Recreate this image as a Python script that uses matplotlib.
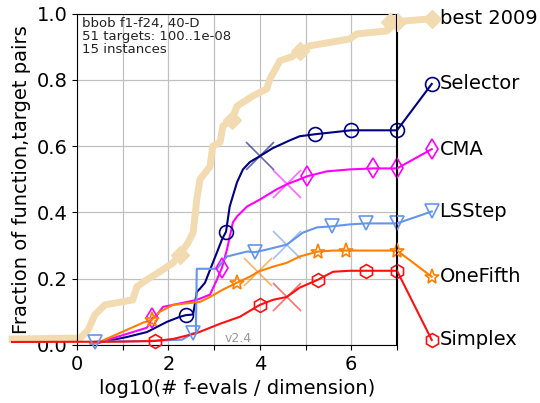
import numpy as np
import matplotlib
matplotlib.use("Agg")
import matplotlib.pyplot as plt

# series: curve points, marker points, median-X point, label end
best_x = [-1.42, 0.07, 0.24, 0.39, 0.61, 1.22, 1.31, 1.53, 1.81, 2.10, 2.25, 2.43, 2.54, 2.58, 2.62,
          2.69, 2.91, 2.97, 3.13, 3.19, 3.39, 3.50, 3.85, 4.15, 4.22, 4.44, 4.70, 4.87, 5.09, 5.60,
          5.97, 6.12, 6.78, 6.84, 7.0]
best_y = [0.018, 0.021, 0.045, 0.091, 0.121, 0.136, 0.176, 0.197, 0.221, 0.248, 0.273, 0.309, 0.339, 0.388, 0.439,
          0.50, 0.539, 0.60, 0.612, 0.661, 0.679, 0.721, 0.752, 0.773, 0.803, 0.858, 0.870, 0.888, 0.903, 0.915,
          0.924, 0.939, 0.948, 0.976, 0.976]
best_mx = [2.25, 3.39, 4.87, 6.84]
best_my = [0.273, 0.679, 0.888, 0.976]

sel_x = [0.3, 0.44, 1.09, 1.53, 1.97, 2.25, 2.38, 2.54, 2.62, 2.69, 2.80, 2.91, 3.06, 3.17, 3.26, 3.34, 3.50,
         3.63, 3.78, 4.0, 4.28, 4.66, 4.87, 5.20, 5.60, 5.99, 7.0]
sel_y = [0.005, 0.006, 0.024, 0.039, 0.07, 0.085, 0.09, 0.092, 0.16, 0.17, 0.188, 0.227, 0.279, 0.318, 0.342, 0.418, 0.491,
         0.530, 0.552, 0.570, 0.594, 0.618, 0.630, 0.636, 0.642, 0.648, 0.648]
sel_mx = [2.38, 3.26, 5.20, 5.99]
sel_my = [0.09, 0.342, 0.636, 0.648]

cma_x = [0.3, 0.44, 1.53, 1.64, 1.75, 1.88, 2.10, 2.62, 2.91, 3.06, 3.17, 3.28, 3.41, 3.50, 3.72, 4.0,
         4.37, 4.59, 4.87, 5.03, 5.46, 5.97, 6.47, 7.0]
cma_y = [0.005, 0.006, 0.052, 0.08, 0.091, 0.115, 0.121, 0.136, 0.152, 0.197, 0.233, 0.288, 0.370, 0.388, 0.418, 0.439,
         0.470, 0.485, 0.50, 0.509, 0.524, 0.530, 0.533, 0.533]
cma_mx = [1.64, 3.17, 5.03, 6.47]
cma_my = [0.08, 0.233, 0.509, 0.533]

ls_x = [0.3, 0.39, 1.5, 2.3, 2.53, 2.60, 2.62, 3.06, 3.28, 3.72, 3.89, 4.15, 4.59, 4.94, 5.25, 5.57,
        5.97, 6.32, 7.0]
ls_y = [0.008, 0.01, 0.012, 0.016, 0.035, 0.035, 0.23, 0.23, 0.267, 0.282, 0.28, 0.288, 0.303, 0.339, 0.355, 0.358,
        0.364, 0.367, 0.367]
ls_mx = [0.39, 2.53, 3.89, 5.57, 6.32]
ls_my = [0.01, 0.035, 0.28, 0.358, 0.367]

of_x = [0.3, 0.44, 1.44, 1.64, 1.81, 2.10, 2.69, 2.91, 3.19, 3.50, 3.78, 3.96, 4.28, 4.59, 4.87, 5.27,
        5.60, 5.88, 7.0]
of_y = [0.005, 0.006, 0.067, 0.076, 0.10, 0.121, 0.130, 0.145, 0.167, 0.188, 0.206, 0.221, 0.236, 0.248, 0.267, 0.282,
        0.285, 0.285, 0.285]
of_mx = [1.64, 3.50, 5.27, 5.88]
of_my = [0.076, 0.188, 0.282, 0.285]

sx_x = [-1.42, 1.0, 1.70, 2.10, 2.62, 3.13, 3.56, 4.0, 4.28, 4.59, 4.87, 5.27, 5.60, 5.97, 6.32, 7.0]
sx_y = [0.009, 0.01, 0.012, 0.018, 0.036, 0.064, 0.085, 0.121, 0.136, 0.145, 0.173, 0.197, 0.221, 0.224, 0.224, 0.224]
sx_mx = [1.70, 4.0, 5.27, 6.32]
sx_my = [0.012, 0.121, 0.197, 0.224]

names = ["best 2009", "Selector", "CMA", "LSStep", "OneFifth", "Simplex"]
label_y = [0.985, 0.788, 0.591, 0.403, 0.206, 0.015]
median_pts = [None, (4.0, 0.57), (4.59, 0.485), (4.59, 0.303), (3.96, 0.221), (4.59, 0.145)]

curves = [(best_x, best_y, best_mx, best_my), (sel_x, sel_y, sel_mx, sel_my),
          (cma_x, cma_y, cma_mx, cma_my), (ls_x, ls_y, ls_mx, ls_my),
          (of_x, of_y, of_mx, of_my), (sx_x, sx_y, sx_mx, sx_my)]
colors = ["#f2dbb0", "#000080", "#ff00ff", "#6495ed", "#ff8000", "#ff1010"]
markers = ["D", "o", "d", "v", "*", "h"]
x_end = 7.0
x_label = 7.76

fig = plt.figure(figsize=(5.4, 4.03), dpi=100)
ax = fig.add_axes([0.1426, 0.144, 0.5926, 0.822])

for i, (xs, ys, mx, my) in enumerate(curves):
    c = colors[i]
    ms = 11 if markers[i] == "*" else (9 if i == 0 else 10)
    if i == 0:
        lw, kw = 5, dict(mfc=c, mec=c)
    else:
        lw, kw = 1.5, dict(mfc="none", mec=c, mew=1.2)
    ax.plot(xs, ys, color=c, lw=lw, clip_on=False, zorder=3 if i else 2)
    ax.plot(mx + [x_end], my + [ys[-1]], ls="none", marker=markers[i], ms=ms,
            clip_on=False, zorder=4, **kw)
    # tail to the label
    ax.plot([x_end, x_label], [ys[-1], label_y[i]], color=c, lw=lw, clip_on=False, zorder=3)
    ax.plot([x_label], [label_y[i]], ls="none", marker=markers[i], ms=ms,
            clip_on=False, zorder=4, **kw)
    ax.text(x_label + 0.17, label_y[i], names[i], fontsize=14, ha="left", va="center", clip_on=False)
    if median_pts[i] is not None:
        ax.plot([median_pts[i][0]], [median_pts[i][1]], marker="x", ms=20, mew=1.2, color=c,
                alpha=0.6, ls="none", zorder=3)

ax.axvline(x_end, color="k", lw=1.5, zorder=5)
ax.set_xlim(0, 7)
ax.set_ylim(0, 1.0)
ax.set_xticks(range(0, 8))
ax.set_xticklabels(["0", "", "2", "", "4", "", "6", ""])
ax.set_yticks(np.arange(0, 1.01, 0.2))
ax.set_yticklabels(["0.0", "0.2", "0.4", "0.6", "0.8", "1.0"])
ax.tick_params(labelsize=14)
ax.grid(True, color="#c0c0c0", lw=0.9)
ax.set_axisbelow(True)
ax.set_xlabel("log10(# f-evals / dimension)", fontsize=14)
ax.set_ylabel("Fraction of function,target pairs", fontsize=14)

ax.text(0.015, 0.99, "bbob f1-f24, 40-D\n51 targets: 100..1e-08\n15 instances", transform=ax.transAxes,
        fontsize=9.5, ha="left", va="top", linespacing=1.0, color="#222222")
ax.text(3.83, 0.02, "v2.4", fontsize=9, color="gray", alpha=0.8, ha="right", va="center")

plt.savefig("out.png")
